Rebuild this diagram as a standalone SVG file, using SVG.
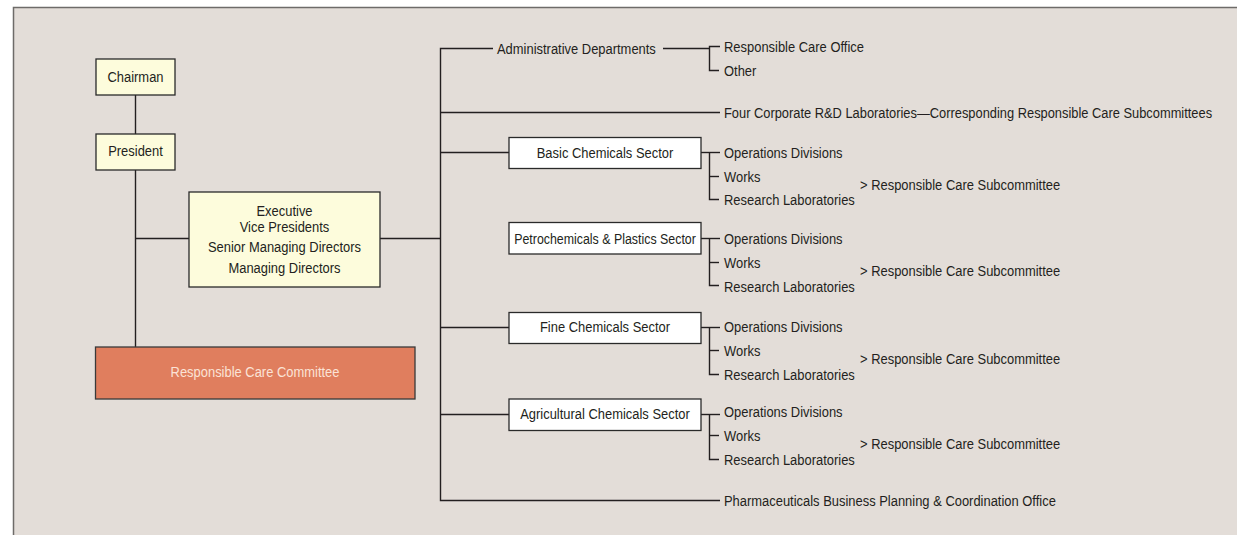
<svg xmlns="http://www.w3.org/2000/svg" width="1237" height="535" viewBox="0 0 1237 535">
  <style>
    text { font-family: "Liberation Sans", Arial, sans-serif; font-size: 15.5px; fill: #231f20; }
    .mid { text-anchor: middle; }
    .box { fill: #fdfcdc; stroke: #2a2a2a; stroke-width: 1.3; }
    .sector { fill: #ffffff; stroke: #2a2a2a; stroke-width: 1.3; }
    .committee { fill: #e07e5e; stroke: #3a3a3a; stroke-width: 1.3; }
    .wire { fill: none; stroke: #231f20; stroke-width: 1.4; }
  </style>

  <!-- panel -->
  <rect x="0" y="0" width="1237" height="535" fill="#ffffff"/>
  <rect x="13.5" y="7.5" width="1240" height="540" fill="#e3ddd8" stroke="#6e6b69" stroke-width="1.5"/>

  <g id="connectors" class="wire">
    <!-- left column -->
    <line x1="135.5" y1="95" x2="135.5" y2="347"/>
    <line x1="135.5" y1="238.5" x2="189" y2="238.5"/>
    <line x1="380" y1="238.5" x2="440.5" y2="238.5"/>
    <!-- trunk -->
    <polyline points="493,48.5 440.5,48.5 440.5,500.5 720,500.5"/>
    <line x1="440.5" y1="112.5" x2="720" y2="112.5"/>
    <line x1="440.5" y1="152.5" x2="509" y2="152.5"/>
    <line x1="440.5" y1="327.5" x2="509" y2="327.5"/>
    <line x1="440.5" y1="414.5" x2="509" y2="414.5"/>
    <!-- administrative -->
    <line x1="663" y1="48.5" x2="709.5" y2="48.5"/>
    <polyline points="720,46.5 709.5,46.5 709.5,70.5 719,70.5"/>
    <!-- basic chemicals -->
    <polyline points="701,152.5 720,152.5"/>
    <polyline points="709.5,152.5 709.5,199.5 719,199.5"/>
    <line x1="709.5" y1="176.5" x2="719" y2="176.5"/>
    <!-- petrochemicals -->
    <polyline points="701,238.5 720,238.5"/>
    <polyline points="709.5,238.5 709.5,285.5 719,285.5"/>
    <line x1="709.5" y1="262.5" x2="719" y2="262.5"/>
    <!-- fine chemicals -->
    <polyline points="701,327.5 720,327.5"/>
    <polyline points="709.5,327.5 709.5,374.5 719,374.5"/>
    <line x1="709.5" y1="350.5" x2="719" y2="350.5"/>
    <!-- agricultural chemicals -->
    <polyline points="701,414.5 720,414.5"/>
    <polyline points="709.5,414.5 709.5,459.5 719,459.5"/>
    <line x1="709.5" y1="435.5" x2="719" y2="435.5"/>
  </g>

  <!-- labels use a horizontally condensed sans -->
  <g id="chairman">
    <rect class="box" x="96" y="59" width="79" height="36"/>
    <text class="mid" transform="translate(135.5 81.5) scale(0.835 1)">Chairman</text>
  </g>
  <g id="president">
    <rect class="box" x="96" y="134" width="79" height="36"/>
    <text class="mid" transform="translate(135.5 156) scale(0.835 1)">President</text>
  </g>
  <g id="executives">
    <rect class="box" x="189" y="192" width="191" height="95"/>
    <text class="mid" transform="translate(284.5 215.5) scale(0.835 1)">Executive</text>
    <text class="mid" transform="translate(284.5 231.5) scale(0.835 1)">Vice Presidents</text>
    <text class="mid" transform="translate(284.5 252) scale(0.835 1)">Senior Managing Directors</text>
    <text class="mid" transform="translate(284.5 273) scale(0.835 1)">Managing Directors</text>
  </g>
  <g id="rc-committee">
    <rect class="committee" x="95.5" y="347" width="319.5" height="52"/>
    <text class="mid" transform="translate(255 377) scale(0.835 1)" style="fill:#fbe3d6">Responsible Care Committee</text>
  </g>

  <g id="administrative">
    <text transform="translate(497 53.5) scale(0.835 1)">Administrative Departments</text>
    <text transform="translate(724 51.5) scale(0.835 1)">Responsible Care Office</text>
    <text transform="translate(724 75.5) scale(0.835 1)">Other</text>
  </g>
  <g id="rd-labs">
    <text transform="translate(724 117.5) scale(0.83 1)">Four Corporate R&amp;D Laboratories—Corresponding Responsible Care Subcommittees</text>
  </g>

  <g id="basic-chemicals">
    <rect class="sector" x="509" y="137.5" width="192" height="31"/>
    <text class="mid" transform="translate(605 157.5) scale(0.835 1)">Basic Chemicals Sector</text>
    <text transform="translate(724 157.5) scale(0.835 1)">Operations Divisions</text>
    <text transform="translate(724 181.5) scale(0.835 1)">Works</text>
    <text transform="translate(724 205) scale(0.835 1)">Research Laboratories</text>
    <text transform="translate(860 189.5) scale(0.835 1)">&gt; Responsible Care Subcommittee</text>
  </g>
  <g id="petrochemicals">
    <rect class="sector" x="509" y="222.5" width="192" height="31.5"/>
    <text class="mid" transform="translate(605 243.5) scale(0.8 1)">Petrochemicals &amp; Plastics Sector</text>
    <text transform="translate(724 243.5) scale(0.835 1)">Operations Divisions</text>
    <text transform="translate(724 267.5) scale(0.835 1)">Works</text>
    <text transform="translate(724 291.5) scale(0.835 1)">Research Laboratories</text>
    <text transform="translate(860 275.5) scale(0.835 1)">&gt; Responsible Care Subcommittee</text>
  </g>
  <g id="fine-chemicals">
    <rect class="sector" x="509" y="312.5" width="192" height="31"/>
    <text class="mid" transform="translate(605 331.5) scale(0.835 1)">Fine Chemicals Sector</text>
    <text transform="translate(724 331.5) scale(0.835 1)">Operations Divisions</text>
    <text transform="translate(724 355.5) scale(0.835 1)">Works</text>
    <text transform="translate(724 379.5) scale(0.835 1)">Research Laboratories</text>
    <text transform="translate(860 363.5) scale(0.835 1)">&gt; Responsible Care Subcommittee</text>
  </g>
  <g id="agricultural-chemicals">
    <rect class="sector" x="509" y="399" width="192" height="31.5"/>
    <text class="mid" transform="translate(605 418.5) scale(0.835 1)">Agricultural Chemicals Sector</text>
    <text transform="translate(724 416.5) scale(0.835 1)">Operations Divisions</text>
    <text transform="translate(724 440.5) scale(0.835 1)">Works</text>
    <text transform="translate(724 464.5) scale(0.835 1)">Research Laboratories</text>
    <text transform="translate(860 448.5) scale(0.835 1)">&gt; Responsible Care Subcommittee</text>
  </g>
  <g id="pharmaceuticals">
    <text transform="translate(724 505.5) scale(0.835 1)">Pharmaceuticals Business Planning &amp; Coordination Office</text>
  </g>
</svg>
